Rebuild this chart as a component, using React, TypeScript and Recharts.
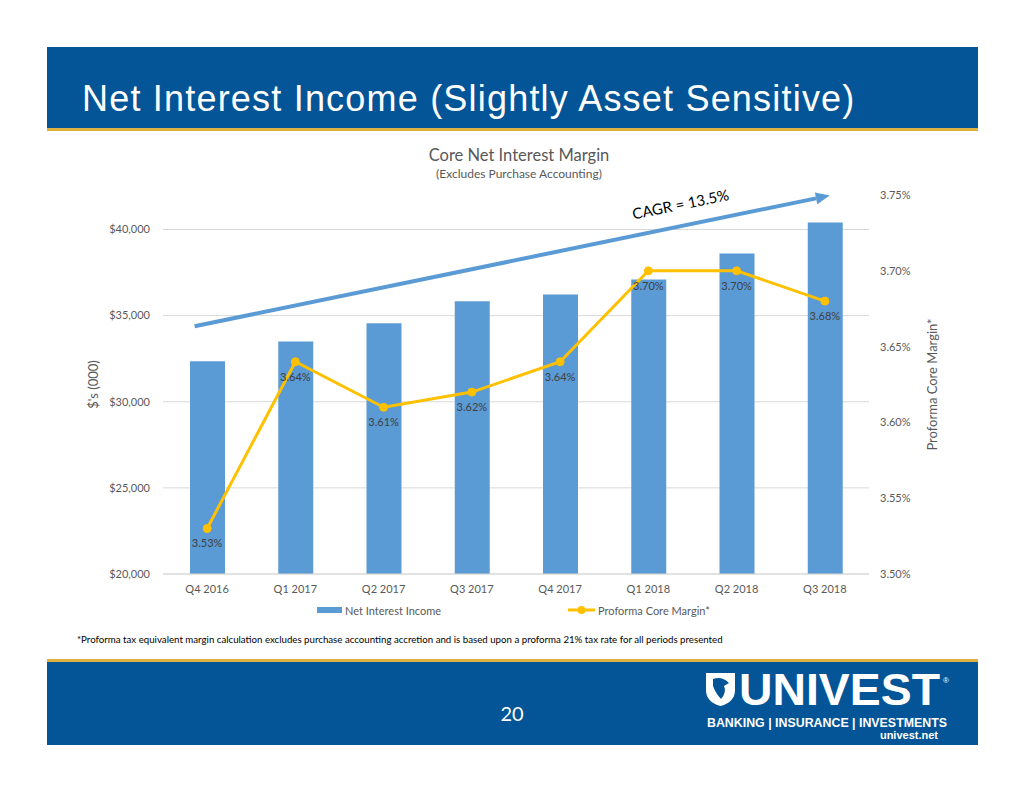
import React from "react";
import {
  ComposedChart,
  Bar,
  Line,
  XAxis,
  YAxis,
  CartesianGrid,
  LabelList,
  ReferenceLine,
  Label,
} from "recharts";

const quarters = [
  "Q4 2016",
  "Q1 2017",
  "Q2 2017",
  "Q3 2017",
  "Q4 2017",
  "Q1 2018",
  "Q2 2018",
  "Q3 2018",
];
const netInterestIncome = [32350, 33500, 34550, 35830, 36230, 37100, 38600, 40400];
const coreMargin = [3.53, 3.64, 3.61, 3.62, 3.64, 3.7, 3.7, 3.68];
const incomeTicks = [20000, 25000, 30000, 35000, 40000];
const marginTicks = [3.5, 3.55, 3.6, 3.65, 3.7, 3.75];
// trend arrow endpoints, in $ (left axis)
const cagrStart = 34530;
const cagrEnd = 41910;

const data = quarters.map((q, i) => ({
  quarter: q,
  income: netInterestIncome[i],
  margin: coreMargin[i],
}));

const BLUE = "#035597";
const GOLD = "#DDB13F";
const BAR = "#5B9BD5";
const LINE = "#FFC000";
const BODY = "'Lato', 'Open Sans', sans-serif";

const money = (v: number) => "$" + v.toLocaleString("en-US");
const pct = (v: number) => v.toFixed(2) + "%";

// CAGR arrow drawn along the reference segment
const CagrArrow = (props: any) => {
  const { x1, y1, x2, y2 } = props;
  if (x1 == null || x2 == null) return null;
  const dx = x2 - x1;
  const dy = y2 - y1;
  const len = Math.sqrt(dx * dx + dy * dy);
  const ux = dx / len;
  const uy = dy / len;
  const sx = x1 - ux * 12.8;
  const sy = y1 - uy * 12.8;
  const tx = x2 + ux * 5;
  const ty = y2 + uy * 5;
  const head = 14;
  const bx = tx - ux * head;
  const by = ty - uy * head;
  const nx = -uy;
  const ny = ux;
  const ang = (Math.atan2(dy, dx) * 180) / Math.PI;
  const t = 0.772;
  const cx = sx + (tx - sx) * t + nx * -22;
  const cy = sy + (ty - sy) * t + ny * -22;
  return (
    <g>
      <line x1={sx} y1={sy} x2={bx} y2={by} stroke={BAR} strokeWidth={4} />
      <polygon
        points={`${tx},${ty} ${bx + nx * 6},${by + ny * 6} ${bx - nx * 6},${by - ny * 6}`}
        fill={BAR}
      />
      <text
        x={cx}
        y={cy}
        transform={`rotate(${ang} ${cx} ${cy})`}
        textAnchor="middle"
        dominantBaseline="central"
        fontFamily={BODY}
        fontSize={15}
        fill="#000"
      >
        CAGR = 13.5%
      </text>
    </g>
  );
};

export default function App() {
  return (
    <div
      style={{
        position: "absolute",
        left: 0,
        top: 0,
        width: 1024,
        height: 791,
        background: "#fff",
      }}
    >
      <svg
        width={1024}
        height={791}
        style={{ position: "absolute", left: 0, top: 0 }}
      >
        {/* header */}
        <rect x={47} y={47} width={931} height={81} fill={BLUE} />
        <rect x={47} y={128} width={931} height={3} fill={GOLD} />
        <text
          x={82}
          y={111}
          fontFamily="'Liberation Sans', Arial, sans-serif"
          fontSize={36}
          letterSpacing={1.2}
          fill="#fff"
        >
          Net Interest Income (Slightly Asset Sensitive)
        </text>

        {/* chart titles */}
        <text
          x={519}
          y={155}
          textAnchor="middle"
          dominantBaseline="central"
          fontFamily={BODY}
          fontSize={16.5}
          fill="#595959"
        >
          Core Net Interest Margin
        </text>
        <text
          x={519}
          y={173}
          textAnchor="middle"
          dominantBaseline="central"
          fontFamily={BODY}
          fontSize={12}
          fill="#595959"
        >
          (Excludes Purchase Accounting)
        </text>

        {/* legend */}
        <rect x={317} y={607} width={25} height={6} fill={BAR} />
        <text
          x={345}
          y={610}
          dominantBaseline="central"
          fontFamily={BODY}
          fontSize={11}
          fill="#595959"
        >
          Net Interest Income
        </text>
        <line x1={568} y1={610} x2={595} y2={610} stroke={LINE} strokeWidth={3} />
        <circle cx={581.5} cy={610} r={4} fill={LINE} />
        <text
          x={598}
          y={610}
          dominantBaseline="central"
          fontFamily={BODY}
          fontSize={11}
          fill="#595959"
        >
          Proforma Core Margin*
        </text>

        {/* footnote */}
        <text
          x={77}
          y={639}
          dominantBaseline="central"
          fontFamily={BODY}
          fontSize={9.7}
          fill="#000"
        >
          *Proforma tax equivalent margin calculation excludes purchase accounting
          accretion and is based upon a proforma 21% tax rate for all periods presented
        </text>

        {/* footer */}
        <rect x={47} y={659} width={931} height={3} fill={GOLD} />
        <rect x={47} y={662} width={931} height={83} fill={BLUE} />
        <text
          x={512}
          y={713}
          textAnchor="middle"
          dominantBaseline="central"
          fontFamily={BODY}
          fontSize={20}
          fill="#fff"
        >
          20
        </text>

        {/* logo */}
        <path
          d="M706,673 L735,673 L735,690 Q735,702 720.5,706 Q706,702 706,690 Z"
          fill="#fff"
        />
        <path
          d="M713,679 Q722,676 729,683 L724,686 Q727,692 721,699 Q716,694 713,686 Z"
          fill={BLUE}
        />
        <text
          x={739}
          y={705}
          fontFamily="'Liberation Sans', Arial, sans-serif"
          fontWeight="bold"
          fontSize={45}
          fill="#fff"
          textLength={201}
          lengthAdjust="spacingAndGlyphs"
        >
          UNIVEST
        </text>
        <text
          x={943}
          y={683}
          fontFamily="'Liberation Sans', Arial, sans-serif"
          fontSize={8}
          fill="#fff"
        >
          ®
        </text>
        <text
          x={707}
          y={727}
          fontFamily="'Liberation Sans', Arial, sans-serif"
          fontWeight="bold"
          fontSize={13}
          fill="#fff"
          textLength={240}
          lengthAdjust="spacingAndGlyphs"
        >
          BANKING | INSURANCE | INVESTMENTS
        </text>
        <text
          x={938}
          y={739}
          textAnchor="end"
          fontFamily="'Liberation Sans', Arial, sans-serif"
          fontWeight="bold"
          fontSize={11}
          fill="#fff"
        >
          univest.net
        </text>
      </svg>

      <div style={{ position: "absolute", left: 0, top: 0 }}>
        <ComposedChart
          width={1024}
          height={660}
          data={data}
          margin={{ top: 195, right: 75, left: 83, bottom: 56 }}
        >
          <CartesianGrid
            yAxisId="left"
            vertical={false}
            stroke="#D9D9D9"
            syncWithTicks
          />
          <XAxis
            dataKey="quarter"
            height={30}
            axisLine={{ stroke: "#D9D9D9" }}
            tickLine={false}
            tickSize={0}
            tickMargin={11}
            tick={{ fontSize: 11, fill: "#595959", fontFamily: BODY }}
          />
          <YAxis
            yAxisId="left"
            width={80}
            domain={[20000, 42000]}
            ticks={incomeTicks}
            tickFormatter={money}
            axisLine={false}
            tickLine={false}
            tickSize={0}
            tickMargin={13}
            tick={{ fontSize: 11, fill: "#595959", fontFamily: BODY }}
          >
            <Label
              value="$'s (000)"
              angle={-90}
              position="insideLeft"
              offset={10}
              style={{
                textAnchor: "middle",
                fontSize: 13,
                fill: "#595959",
                fontFamily: BODY,
              }}
            />
          </YAxis>
          <YAxis
            yAxisId="right"
            orientation="right"
            width={80}
            domain={[3.5, 3.75]}
            ticks={marginTicks}
            tickFormatter={pct}
            axisLine={false}
            tickLine={false}
            tickSize={0}
            tickMargin={11}
            tick={{ fontSize: 11, fill: "#595959", fontFamily: BODY }}
          >
            <Label
              value="Proforma Core Margin*"
              angle={-90}
              position="insideRight"
              offset={17}
              style={{
                textAnchor: "middle",
                fontSize: 13,
                fill: "#595959",
                fontFamily: BODY,
              }}
            />
          </YAxis>
          <Bar
            yAxisId="left"
            dataKey="income"
            fill={BAR}
            barSize={35}
            isAnimationActive={false}
          />
          <Line
            yAxisId="right"
            dataKey="margin"
            stroke={LINE}
            strokeWidth={3}
            dot={{ r: 4, fill: LINE, stroke: LINE, strokeWidth: 1 }}
            isAnimationActive={false}
          >
            <LabelList
              dataKey="margin"
              position="bottom"
              offset={11}
              formatter={(v: any) => pct(Number(v))}
              style={{ fontSize: 11, fill: "#404040", fontFamily: BODY }}
            />
          </Line>
          <ReferenceLine
            yAxisId="left"
            segment={[
              { x: quarters[0], y: cagrStart },
              { x: quarters[quarters.length - 1], y: cagrEnd },
            ]}
            shape={CagrArrow}
          />
        </ComposedChart>
      </div>
    </div>
  );
}
